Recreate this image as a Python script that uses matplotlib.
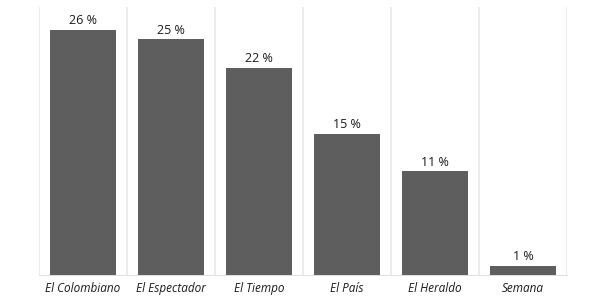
import numpy as np
import matplotlib.pyplot as plt

# Data
medios = ['El Colombiano', 'El Espectador', 'El Tiempo', 'El País', 'El Heraldo', 'Semana']
porcentajes = [26, 25, 22, 15, 11, 1]

plt.rcParams['font.family'] = ['Open Sans', 'DejaVu Sans']

fig = plt.figure(figsize=(6.0, 2.97), dpi=100)
ax = fig.add_axes([39/600, 1 - 275/297, 528/600, 268/297])

x = np.arange(len(medios))
bars = ax.bar(x, porcentajes, width=0.75, color='#5e5e5e', zorder=3)

for xi, v in zip(x, porcentajes):
    ax.text(xi, v + 0.3, '{} %'.format(v), ha='center', va='bottom',
            fontsize=9, color='#1a1a1a')

ax.set_xlim(-0.5, len(medios) - 0.5)
ax.set_ylim(0, 28.45)

# separator lines between categories
ax.set_xticks(np.arange(-0.5, len(medios)), minor=True)
ax.grid(axis='x', which='minor', color='#e9e9e9', linewidth=1.2, zorder=0)
ax.set_xticks(x)
ax.set_xticklabels(medios, fontstyle='italic', fontsize=8.5, color='#1a1a1a')
ax.tick_params(axis='x', which='both', length=0, pad=5)
ax.set_yticks([])

for side in ['top', 'right', 'left']:
    ax.spines[side].set_visible(False)
ax.spines['bottom'].set_color('#e0e0e0')

fig.savefig('out.png', dpi=100)
